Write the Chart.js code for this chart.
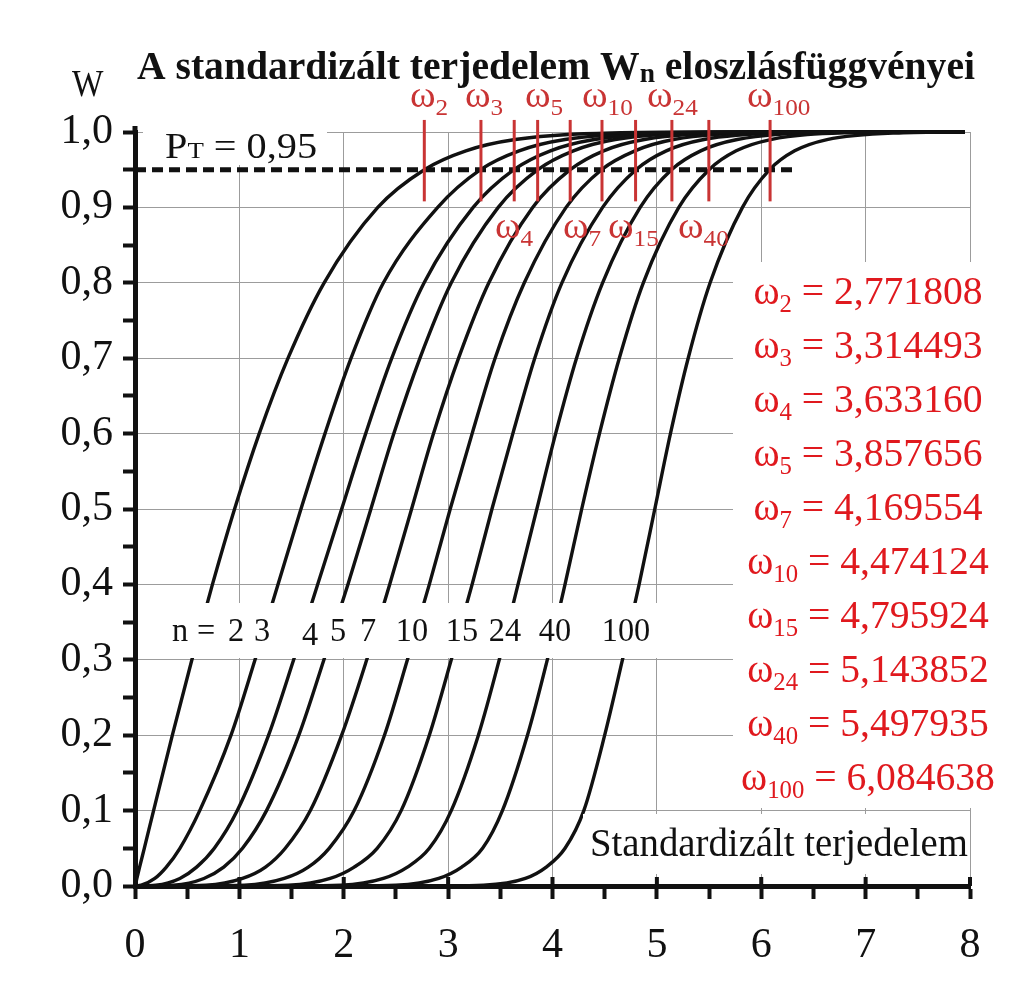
<!DOCTYPE html>
<html>
<head>
<meta charset="utf-8">
<script src="https://cdn.jsdelivr.net/npm/chart.js@4.4.1/dist/chart.umd.min.js"></script>
<style>
  html, body { margin: 0; padding: 0; background: #fff; }
</style>
</head>
<body>
<canvas id="chart" width="1024" height="1005"></canvas>
<script>
// W levels
const levels = [0, 0.001, 0.01, 0.025, 0.05, 0.1, 0.2, 0.3, 0.4, 0.5, 0.6, 0.7, 0.8, 0.9, 0.95, 0.975, 0.99, 0.999, 1, 1];
const sampleSizes = [2, 3, 4, 5, 7, 10, 15, 24, 40, 100];
// standardized range where each curve reaches the level above
const range2   = [0.00, 0.002, 0.018, 0.044, 0.089, 0.178, 0.358, 0.545, 0.742, 0.954, 1.190, 1.466, 1.812, 2.326, 2.772, 3.170, 3.643, 4.654, 5.60, 7.95];
const range3   = [0.00, 0.06, 0.19, 0.30, 0.43, 0.62, 0.92, 1.15, 1.37, 1.59, 1.82, 2.07, 2.38, 2.90, 3.31, 3.68, 4.12, 5.06, 6.00, 7.95];
const range4   = [0.00, 0.20, 0.43, 0.59, 0.76, 0.98, 1.28, 1.52, 1.75, 1.98, 2.21, 2.46, 2.77, 3.24, 3.63, 3.98, 4.40, 5.31, 6.20, 7.95];
const range5   = [0.05, 0.37, 0.66, 0.85, 1.03, 1.26, 1.57, 1.81, 2.04, 2.26, 2.48, 2.73, 3.03, 3.48, 3.86, 4.20, 4.60, 5.48, 6.30, 7.95];
const range7   = [0.25, 0.68, 1.03, 1.25, 1.44, 1.68, 1.98, 2.22, 2.44, 2.65, 2.86, 3.10, 3.39, 3.81, 4.17, 4.49, 4.88, 5.73, 6.50, 7.95];
const range10  = [0.55, 1.05, 1.43, 1.66, 1.86, 2.10, 2.39, 2.61, 2.82, 3.02, 3.23, 3.45, 3.73, 4.13, 4.47, 4.79, 5.16, 5.97, 6.70, 7.95];
const range15  = [0.95, 1.47, 1.87, 2.10, 2.32, 2.55, 2.82, 3.03, 3.23, 3.42, 3.62, 3.83, 4.09, 4.48, 4.80, 5.09, 5.45, 6.23, 6.90, 7.95];
const range24  = [1.45, 1.97, 2.38, 2.61, 2.82, 3.03, 3.29, 3.49, 3.67, 3.85, 4.03, 4.23, 4.48, 4.84, 5.14, 5.42, 5.77, 6.53, 7.20, 7.95];
const range40  = [2.00, 2.50, 2.91, 3.13, 3.33, 3.52, 3.76, 3.95, 4.12, 4.28, 4.45, 4.64, 4.87, 5.21, 5.50, 5.76, 6.09, 6.84, 7.50, 7.95];
const range100 = [2.90, 3.34, 3.74, 3.94, 4.12, 4.30, 4.50, 4.67, 4.83, 4.98, 5.13, 5.30, 5.51, 5.82, 6.08, 6.32, 6.63, 7.36, 7.90, 7.95];
const ranges = [range2, range3, range4, range5, range7, range10, range15, range24, range40, range100];

const pT = 0.95;
const pTEnd = 6.35;
const omegaNames  = ['2', '3', '4', '5', '7', '10', '15', '24', '40', '100'];
const omegaValues = [2.771808, 3.314493, 3.633160, 3.857656, 4.169554, 4.474124, 4.795924, 5.143852, 5.497935, 6.084638];
const omegaLow = 0.908, omegaHigh = 1.016;

const serif = '"Liberation Serif", "DejaVu Serif", serif';
const redLine = '#c93434';
const redText = '#e0191e';

const datasets = [];
sampleSizes.forEach((n, i) => {
  datasets.push({
    label: 'n = ' + n,
    data: ranges[i].map((x, j) => ({ x: x, y: levels[j] })),
    borderColor: '#111',
    borderWidth: 3.4,
    pointRadius: 0,
    cubicInterpolationMode: 'monotone',
    clip: false,
    order: 2
  });
});
datasets.push({
  label: 'PT',
  data: [{ x: 0, y: pT }, { x: pTEnd, y: pT }],
  borderColor: '#111',
  borderWidth: 5,
  borderDash: [11, 6],
  pointRadius: 0,
  clip: false,
  order: 1
});
omegaValues.forEach((v, i) => {
  datasets.push({
    label: 'ω' + omegaNames[i],
    data: [{ x: v, y: omegaLow }, { x: v, y: omegaHigh }],
    borderColor: redLine,
    borderWidth: 3,
    pointRadius: 0,
    clip: false,
    order: 0
  });
});

function isStep(v, step) {
  const k = v / step;
  return Math.abs(k - Math.round(k)) < 1e-6;
}

// draws a run of text pieces, stretched horizontally
function drawRun(ctx, parts, x, y, align, stretch, color) {
  ctx.save();
  ctx.fillStyle = color;
  ctx.textBaseline = 'alphabetic';
  ctx.textAlign = 'left';
  let w = 0;
  parts.forEach(p => { ctx.font = p.f; p.w = ctx.measureText(p.t).width; w += p.w; });
  let x0 = x;
  if (align === 'center') x0 = x - w * stretch / 2;
  if (align === 'right') x0 = x - w * stretch;
  ctx.translate(x0, y);
  ctx.scale(stretch, 1);
  let cx = 0;
  parts.forEach(p => { ctx.font = p.f; ctx.fillText(p.t, cx, p.dy || 0); cx += p.w; });
  ctx.restore();
  return w;
}

function fitRun(ctx, parts, x, y, width, color) {
  let w = 0;
  parts.forEach(p => { ctx.font = p.f; w += ctx.measureText(p.t).width; });
  drawRun(ctx, parts, x, y, 'left', width / w, color);
}

const overlay = {
  id: 'overlay',
  afterDatasetsDraw(chart) {
    const ctx = chart.ctx;
    const xs = chart.scales.x, ys = chart.scales.y;
    ctx.save();
    ctx.fillStyle = '#fff';
    ctx.fillRect(143, 125, 184, 40);    // P_T label
    ctx.fillRect(140, 603, 540, 55);    // n = ... row
    ctx.fillRect(733, 262, 280, 546);   // omega list
    ctx.fillRect(583, 814, 383, 60);    // x title

    // upper half of the whole-number ticks on the x axis
    ctx.strokeStyle = '#111';
    ctx.lineWidth = 4;
    for (let v = 1; v <= 8; v++) {
      const px = xs.getPixelForValue(v);
      ctx.beginPath();
      ctx.moveTo(px, ys.bottom);
      ctx.lineTo(px, ys.bottom - 9);
      ctx.stroke();
    }
    ctx.lineWidth = 5;
    ctx.beginPath();
    ctx.moveTo(xs.left, ys.top);
    ctx.lineTo(xs.left, ys.top - 6);
    ctx.stroke();
    ctx.restore();

    // title and axis names
    fitRun(ctx, [
      { t: 'A standardizált terjedelem W', f: 'bold 39px ' + serif },
      { t: 'n', f: 'bold 27px ' + serif, dy: 3 },
      { t: ' eloszlásfüggvényei', f: 'bold 39px ' + serif }
    ], 137, 79, 838, '#111');
    drawRun(ctx, [{ t: 'W', f: '37px ' + serif }], 72, 96, 'left', 0.9, '#111');
    fitRun(ctx, [{ t: 'Standardizált terjedelem', f: '40px ' + serif }], 590, 856, 378, '#111');

    fitRun(ctx, [
      { t: 'P', f: '36px ' + serif },
      { t: 'T', f: '24px ' + serif },
      { t: ' = 0,95', f: '36px ' + serif }
    ], 165, 158, 152, '#111');

    // n labels in the white row
    const nLabels = ['n', '=', '2', '3', '4', '5', '7', '10', '15', '24', '40', '100'];
    const nLabelX = [180, 206, 236, 262, 310, 338, 368, 412, 462, 505, 555, 626];
    nLabels.forEach((t, i) => {
      drawRun(ctx, [{ t: t, f: '34px ' + serif }], nLabelX[i], t === '4' ? 645 : 641, 'center', 0.95, '#111');
    });

    // omega markers
    const topIdx = [0, 1, 3, 5, 7, 9];
    const topX = [410, 465, 525, 582, 647, 747];
    topIdx.forEach((k, i) => {
      drawRun(ctx, [
        { t: 'ω', f: '37px ' + serif },
        { t: omegaNames[k], f: '24px ' + serif, dy: 8 }
      ], topX[i], 107, 'left', 1.05, redLine);
    });
    const lowIdx = [2, 4, 6, 8];
    const lowX = [495, 563, 608, 678];
    lowIdx.forEach((k, i) => {
      drawRun(ctx, [
        { t: 'ω', f: '37px ' + serif },
        { t: omegaNames[k], f: '24px ' + serif, dy: 8 }
      ], lowX[i], 238, 'left', 1.05, redLine);
    });

    // omega value list
    omegaValues.forEach((v, i) => {
      drawRun(ctx, [
        { t: 'ω', f: '40px ' + serif },
        { t: omegaNames[i], f: '25px ' + serif, dy: 8 },
        { t: ' = ' + v.toFixed(6).replace('.', ','), f: '40px ' + serif }
      ], 868, 304 + 54 * i, 'center', 0.99, redText);
    });
  }
};

new Chart(document.getElementById('chart'), {
  type: 'line',
  data: { datasets: datasets },
  plugins: [overlay],
  options: {
    responsive: false,
    animation: false,
    devicePixelRatio: 1,
    layout: { padding: { top: 132, right: 54, left: 0, bottom: 0 } },
    plugins: { legend: { display: false }, tooltip: { enabled: false } },
    scales: {
      x: {
        type: 'linear',
        min: 0,
        max: 8,
        afterFit: s => { s.height = 119; },
        ticks: {
          stepSize: 0.5,
          autoSkip: false,
          maxRotation: 0,
          padding: 22,
          color: '#111',
          font: { family: serif, size: 42 },
          callback: v => isStep(v, 1) ? String(Math.round(v)) : ''
        },
        grid: {
          color: c => isStep(c.tick.value, 1) ? '#9c9c9c' : 'rgba(0,0,0,0)',
          lineWidth: 1,
          tickColor: '#111',
          tickWidth: 4,
          tickLength: 13
        },
        border: { color: '#111', width: 5 }
      },
      y: {
        min: 0,
        max: 1,
        afterFit: s => { s.width = 135; },
        ticks: {
          stepSize: 0.05,
          autoSkip: false,
          padding: 10,
          color: '#111',
          font: { family: serif, size: 42 },
          callback: v => isStep(v, 0.1) ? v.toFixed(1).replace('.', ',') : ''
        },
        grid: {
          color: c => isStep(c.tick.value, 0.1) ? '#9c9c9c' : 'rgba(0,0,0,0)',
          lineWidth: 1,
          tickColor: '#111',
          tickWidth: 4,
          tickLength: 12
        },
        border: { color: '#111', width: 5 }
      }
    }
  }
});
</script>
</body>
</html>
